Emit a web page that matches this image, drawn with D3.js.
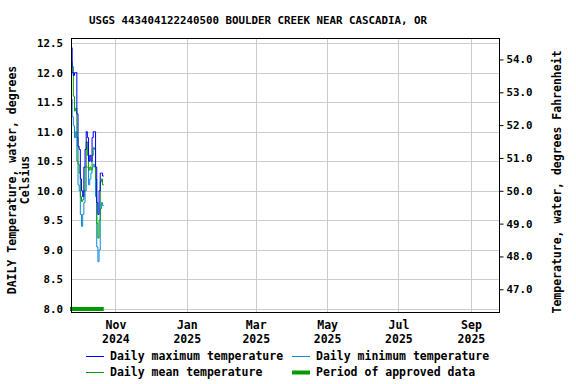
<!DOCTYPE html>
<html>
<head>
<meta charset="utf-8">
<script src="https://cdn.jsdelivr.net/npm/d3@7"></script>
<style>
  body { margin: 0; background: #fff; }
  text { font-family: "DejaVu Sans Mono", monospace; font-weight: bold; font-size: 10.8px; fill: #000; }
  .big { font-size: 11.5px; }
</style>
</head>
<body>
<div id="chart"></div>
<script>
const dates = [
  "2024-09-24", "2024-09-25", "2024-09-26", "2024-09-27", "2024-09-28", "2024-09-29", "2024-09-30",
  "2024-10-01", "2024-10-02", "2024-10-03", "2024-10-04", "2024-10-05", "2024-10-06", "2024-10-07",
  "2024-10-08", "2024-10-09", "2024-10-10", "2024-10-11", "2024-10-12", "2024-10-13", "2024-10-14",
  "2024-10-15", "2024-10-16", "2024-10-17", "2024-10-18", "2024-10-19", "2024-10-20", "2024-10-21",
];
const maxTemp = [12.42, 12.0, 11.95, 12.0, 12.0, 11.3, 10.75, 10.7, 10.2, 10.0, 9.9, 10.4, 10.7, 11.0,
  10.9, 10.5, 10.6, 10.5, 10.9, 11.0, 11.0, 10.4, 9.8, 9.6, 10.0, 10.3, 10.3, 10.25];
const meanTemp = [12.18, 12.1, 11.6, 11.35, 11.4, 10.9, 10.45, 10.3, 9.9, 9.82, 9.85, 10.0, 10.4, 10.83,
  10.6, 10.35, 10.4, 10.35, 10.6, 10.73, 10.7, 10.2, 9.45, 9.2, 9.5, 10.15, 10.2, 10.1];
const minTemp = [11.55, 11.25, 11.1, 10.9, 11.0, 10.5, 10.1, 10.0, 9.6, 9.4, 9.6, 9.8, 10.0, 10.4,
  10.4, 10.1, 10.2, 10.3, 10.4, 10.45, 10.4, 9.9, 9.05, 8.8, 9.0, 9.7, 9.8, 9.75];
const approvedPeriod = ["2024-09-24", "2024-10-22"];

const celsiusTicks = [8.0, 8.5, 9.0, 9.5, 10.0, 10.5, 11.0, 11.5, 12.0, 12.5];
const fahrenheitTicks = [47, 48, 49, 50, 51, 52, 53, 54];
const monthTicks = ["2024-11-01", "2025-01-01", "2025-03-01", "2025-05-01", "2025-07-01", "2025-09-01"];
const monthLabels = [["Nov", "2024"], ["Jan", "2025"], ["Mar", "2025"], ["May", "2025"], ["Jul", "2025"], ["Sep", "2025"]];

const title = "USGS 443404122240500 BOULDER CREEK NEAR CASCADIA, OR";

const width = 576, height = 384;
const plot = { left: 71, right: 499, top: 38, bottom: 312 };
const parse = d3.timeParse("%Y-%m-%d");

const colors = { max: "#0000ff", min: "#0a8ad8", mean: "#00a000", approved: "#009a00" };

const svg = d3.select("#chart").append("svg")
  .attr("width", width).attr("height", height);

const x = d3.scaleTime()
  .domain([parse("2024-09-24"), parse("2025-09-25")])
  .range([plot.left, plot.right]);
const y = d3.scaleLinear()
  .domain([7.949, 12.585])
  .range([plot.bottom, plot.top]);
const yF = d3.scaleLinear()
  .domain(y.domain().map((c) => c * 9 / 5 + 32))
  .range([plot.bottom, plot.top]);

// grid
const grid = svg.append("g").attr("stroke", "#cccccc").attr("stroke-width", 1);
celsiusTicks.forEach((t) => {
  grid.append("line")
    .attr("x1", plot.left).attr("x2", plot.right)
    .attr("y1", Math.round(y(t)) + 0.5).attr("y2", Math.round(y(t)) + 0.5);
});
monthTicks.forEach((t) => {
  const xx = Math.round(x(parse(t))) + 0.5;
  grid.append("line")
    .attr("x1", xx).attr("x2", xx)
    .attr("y1", plot.top).attr("y2", plot.bottom);
});

// step lines
const dayMs = 24 * 3600 * 1000;
function stepPoints(values) {
  const pts = dates.map((d, i) => ({ date: parse(d), v: values[i] }));
  const last = pts[pts.length - 1];
  pts.push({ date: new Date(+last.date + dayMs), v: last.v });
  return pts;
}
const line = d3.line()
  .x((d) => x(d.date))
  .y((d) => y(d.v))
  .curve(d3.curveStepAfter);

const series = [
  { key: "min", values: minTemp },
  { key: "mean", values: meanTemp },
  { key: "max", values: maxTemp },
];
series.forEach((s) => {
  svg.append("path")
    .datum(stepPoints(s.values))
    .attr("fill", "none")
    .attr("stroke", colors[s.key])
    .attr("stroke-width", 1)
    .attr("d", line);
});

// approved period bar
svg.append("line")
  .attr("x1", x(parse(approvedPeriod[0])) - 1)
  .attr("x2", x(parse(approvedPeriod[1])))
  .attr("y1", y(8.0)).attr("y2", y(8.0))
  .attr("stroke", colors.approved)
  .attr("stroke-width", 4);

// frame
svg.append("rect")
  .attr("x", plot.left + 0.5).attr("y", plot.top + 0.5)
  .attr("width", plot.right - plot.left).attr("height", plot.bottom - plot.top)
  .attr("fill", "none").attr("stroke", "#000").attr("stroke-width", 1);

// left axis
const leftAxis = svg.append("g")
  .attr("transform", `translate(${plot.left},0)`)
  .call(d3.axisLeft(y).tickValues(celsiusTicks).tickFormat(d3.format(".1f")).tickSize(0).tickPadding(8));
leftAxis.select(".domain").remove();

// right axis
const rightAxis = svg.append("g")
  .attr("transform", `translate(${plot.right + 0.5},0)`)
  .call(d3.axisRight(yF).tickValues(fahrenheitTicks).tickFormat(d3.format(".1f")).tickSize(4).tickPadding(3));
rightAxis.select(".domain").remove();
rightAxis.selectAll(".tick line").attr("stroke", "#000");

// bottom axis
const bottomAxis = svg.append("g")
  .attr("transform", `translate(0,${plot.bottom})`)
  .call(d3.axisBottom(x).tickValues(monthTicks.map(parse)).tickSize(0).tickFormat(""));
bottomAxis.select(".domain").remove();
bottomAxis.selectAll(".tick").each(function (d, i) {
  const t = d3.select(this).append("text")
    .attr("class", "big")
    .attr("text-anchor", "middle");
  t.append("tspan").attr("x", 0).attr("y", 17).text(monthLabels[i][0]);
  t.append("tspan").attr("x", 0).attr("y", 31).text(monthLabels[i][1]);
});

svg.selectAll("g[font-family]").attr("font-family", null).attr("font-size", null);

// title
svg.append("text")
  .attr("x", 258).attr("y", 24)
  .attr("text-anchor", "middle")
  .text(title);

// axis titles
const leftTitle = svg.append("text")
  .attr("class", "big")
  .attr("transform", "translate(16,180) rotate(-90)")
  .attr("text-anchor", "middle");
leftTitle.append("tspan").attr("x", 0).attr("y", 0).text("DAILY Temperature, water, degrees");
leftTitle.append("tspan").attr("x", 0).attr("y", 13).text("Celsius");

svg.append("text")
  .attr("class", "big")
  .attr("transform", "translate(561,182) rotate(-90)")
  .attr("text-anchor", "middle")
  .text("Temperature, water, degrees Fahrenheit");

// legend
const legendItems = [
  { label: "Daily maximum temperature", color: colors.max, w: 1, col: 0, row: 0 },
  { label: "Daily minimum temperature", color: colors.min, w: 1, col: 1, row: 0 },
  { label: "Daily mean temperature", color: colors.mean, w: 1, col: 0, row: 1 },
  { label: "Period of approved data", color: colors.approved, w: 4, col: 1, row: 1 },
];
const legend = svg.append("g");
legendItems.forEach((item) => {
  const lx = item.col === 0 ? 86 : 292;
  const ly = 356 + item.row * 16;
  legend.append("line")
    .attr("x1", lx).attr("x2", lx + 18)
    .attr("y1", ly + 0.5).attr("y2", ly + 0.5)
    .attr("stroke", item.color).attr("stroke-width", item.w);
  legend.append("text")
    .attr("class", "big")
    .attr("x", lx + 24).attr("y", ly + 4)
    .text(item.label);
});
</script>
</body>
</html>
